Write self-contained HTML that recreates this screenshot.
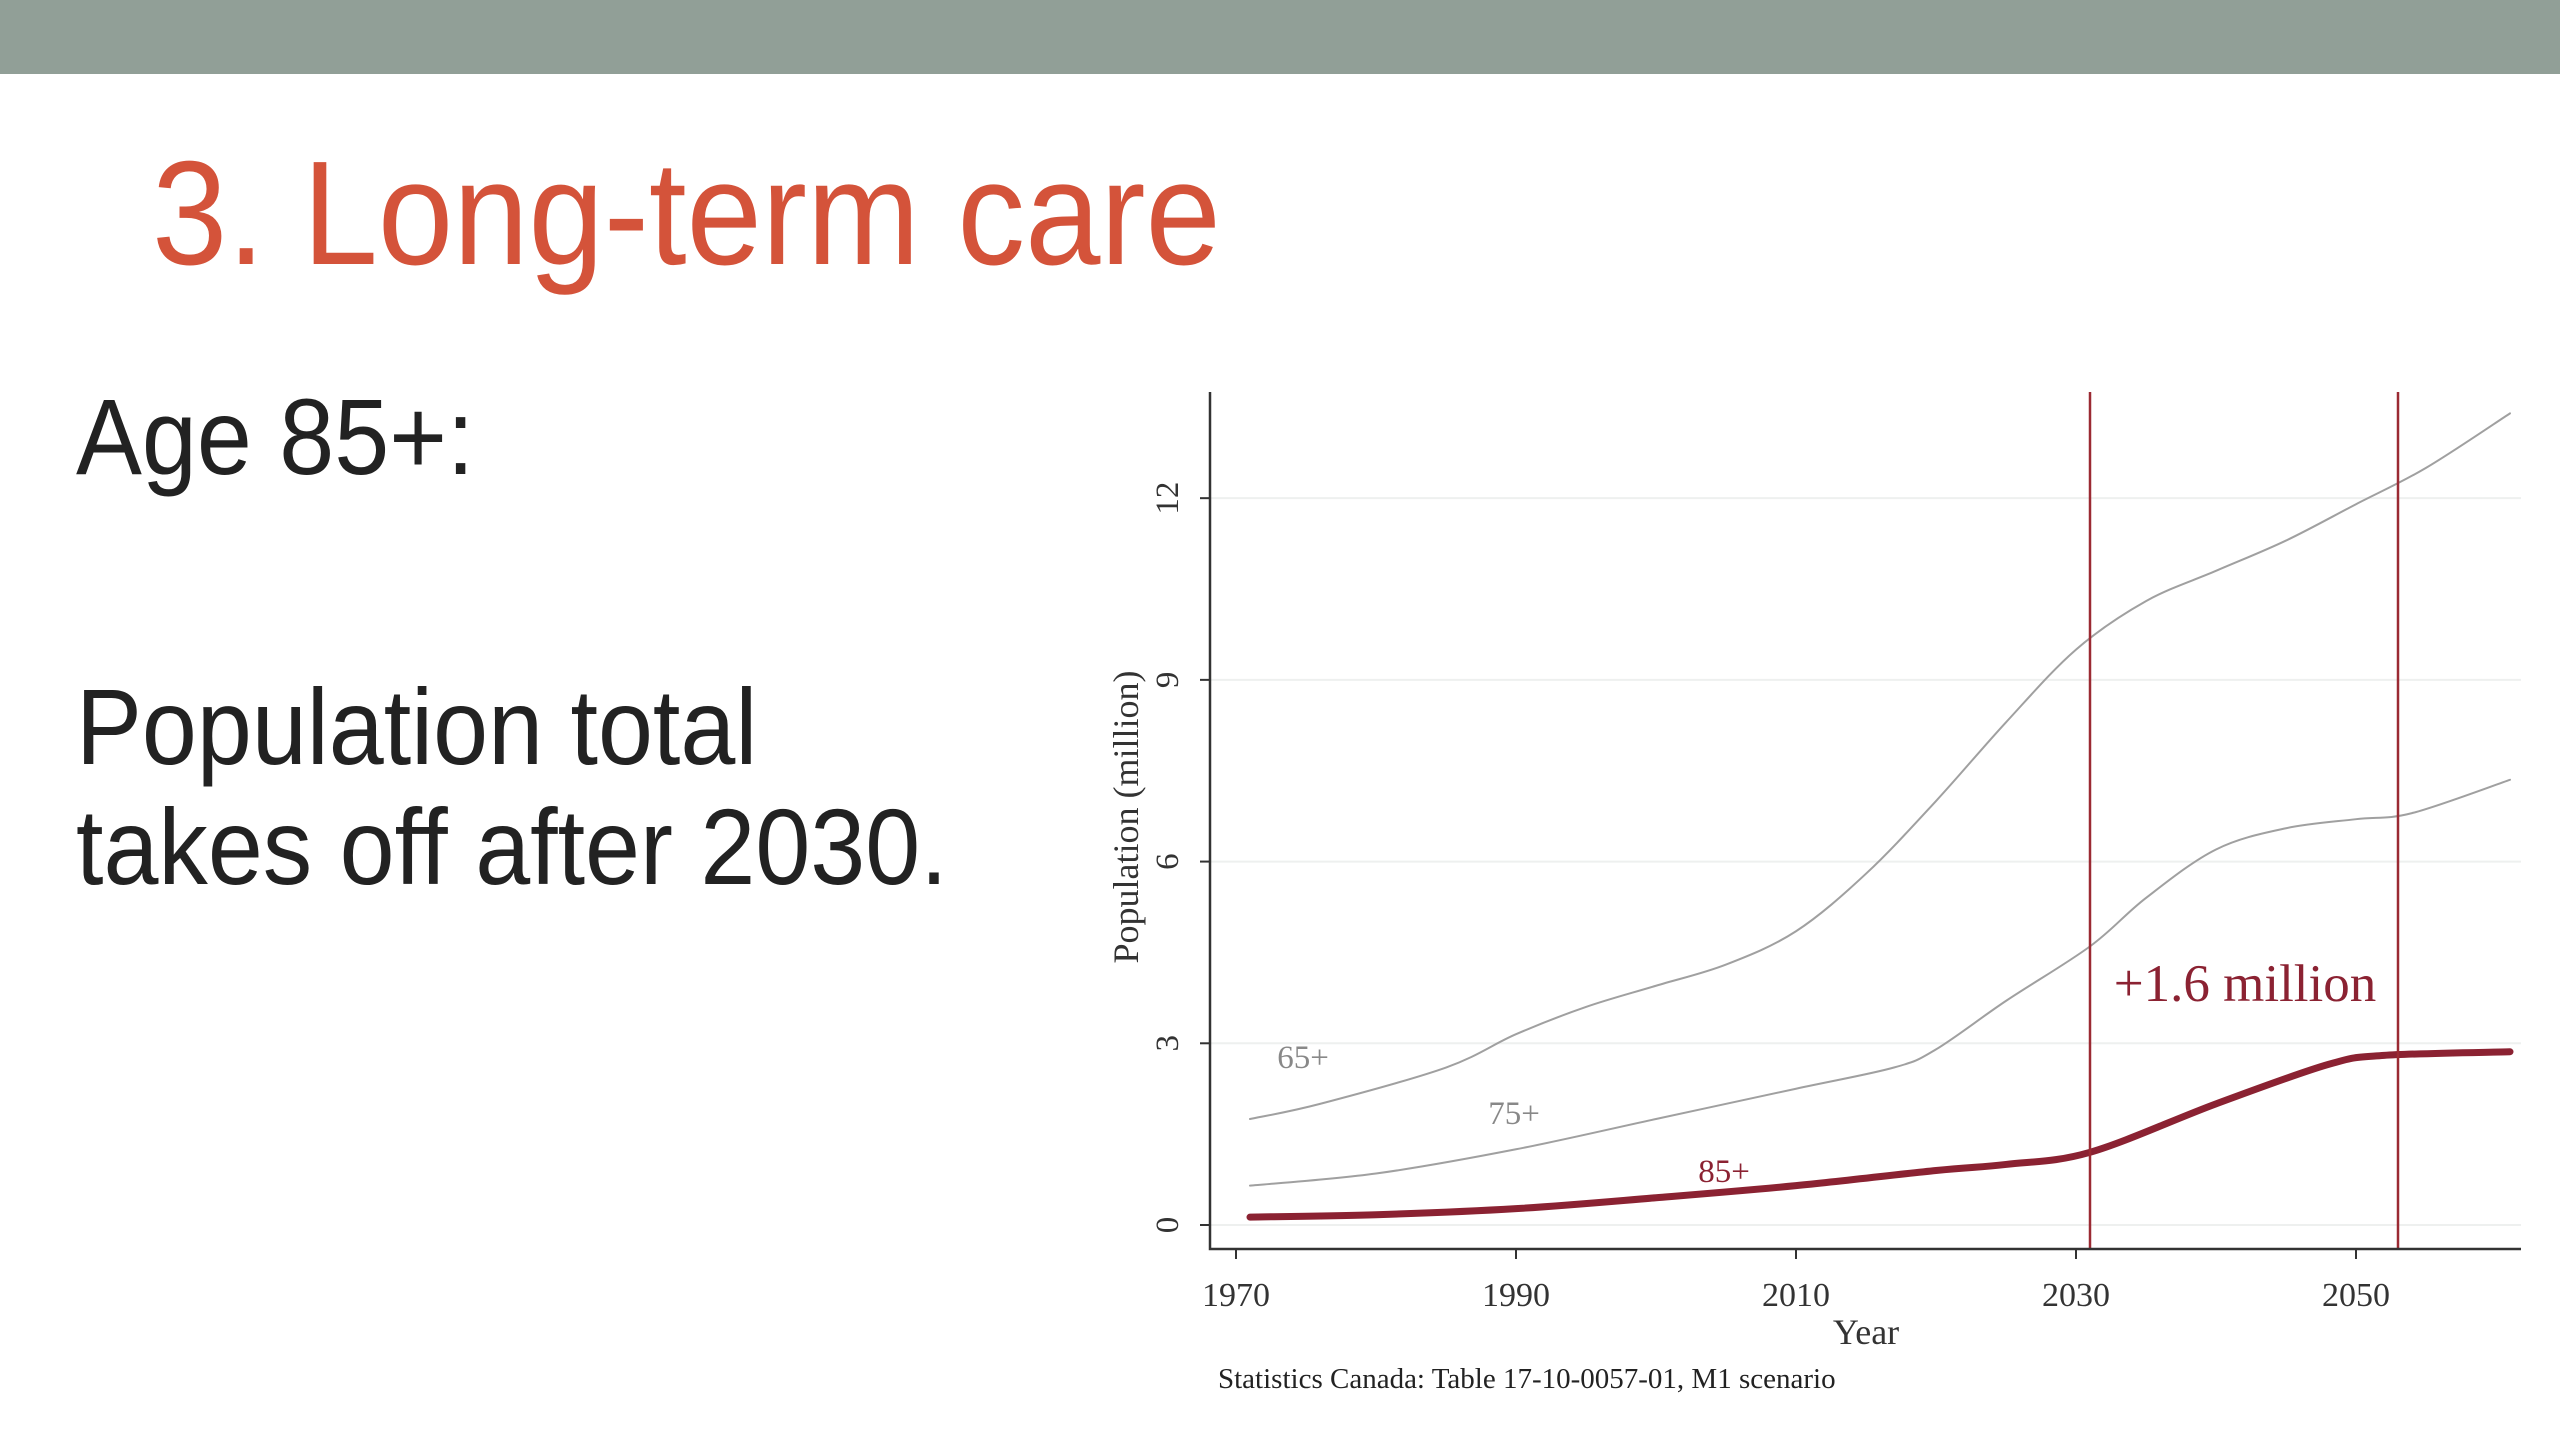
<!DOCTYPE html>
<html><head><meta charset="utf-8"><style>
html,body{margin:0;padding:0;background:#fff;width:2560px;height:1440px;overflow:hidden}
.abs{position:absolute;white-space:nowrap;transform-origin:0 0;transform:scaleX(0.915)}
.sans{font-family:"Liberation Sans",sans-serif}
</style></head><body>
<div style="position:absolute;left:0;top:0;width:2560px;height:74px;background:#919f97"></div>
<div class="abs sans" style="left:152px;top:140px;font-size:148px;color:#d4533a;line-height:1">3. Long-term care</div>
<div class="abs sans" style="left:76px;top:383px;font-size:108px;color:#222;line-height:1">Age 85+:</div>
<div class="abs sans" style="left:76px;top:667px;font-size:108px;color:#222;line-height:120px">Population total<br>takes off after 2030.</div>
<svg id="chart" style="position:absolute;left:0;top:0" width="2560" height="1440" font-family="Liberation Serif, serif"></svg>
<script>
const years65=[1971,1976,1985,1990,1995,2000,2005,2010,2015,2020,2025,2030,2035,2040,2045,2050,2055,2061];
const pop65=[1.75,2.0,2.6,3.15,3.6,3.95,4.3,4.85,5.8,7.0,8.3,9.5,10.3,10.8,11.3,11.9,12.5,13.4];
const years75=[1971,1980,1990,2000,2010,2017,2020,2025,2031,2035,2040,2045,2050,2054,2061];
const pop75=[0.65,0.85,1.25,1.75,2.25,2.6,2.9,3.7,4.6,5.4,6.2,6.55,6.7,6.8,7.35];
const years85=[1971,1980,1990,2000,2010,2020,2025,2031,2040,2048,2052,2061];
const pop85=[0.13,0.17,0.27,0.45,0.65,0.9,1.0,1.2,2.0,2.65,2.8,2.86];
const yTicks=[0,3,6,9,12];
const xTicks=[1970,1990,2010,2030,2050];
const vLines=[2031,2053];
const NS="http://www.w3.org/2000/svg";
const svg=document.getElementById('chart');
const X=y=>1236+(y-1970)*14.0;
const Y=v=>1225-v*60.57;
function el(t,a){const e=document.createElementNS(NS,t);for(const k in a)e.setAttribute(k,a[k]);svg.appendChild(e);return e;}
yTicks.forEach(v=>{
 const g=el('line',{x1:1210,x2:2521,y1:Y(v),y2:Y(v),stroke:'#eef0ef','stroke-width':2});
 
 
 const t=el('line',{x1:1200,x2:1210,y1:Y(v),y2:Y(v),stroke:'#333','stroke-width':2});
 
 
 const l=el('text',{x:1178,y:Y(v),'font-size':33,fill:'#333','text-anchor':'middle',transform:`rotate(-90 1178 ${Y(v)})`});
 l.textContent=v;
 
 
});
xTicks.forEach(v=>{
 const t=el('line',{x1:X(v),x2:X(v),y1:1249,y2:1259,stroke:'#333','stroke-width':2});
 
 
 const l=el('text',{x:X(v),y:1306,'font-size':34,fill:'#333','text-anchor':'middle'});
 l.textContent=v;
 
 
});
function smooth(pts){
 let d='M'+pts[0][0]+','+pts[0][1];
 for(let i=0;i<pts.length-1;i++){
  const p0=pts[Math.max(i-1,0)],p1=pts[i],p2=pts[i+1],p3=pts[Math.min(i+2,pts.length-1)];
  const c1=[p1[0]+(p2[0]-p0[0])/6,p1[1]+(p2[1]-p0[1])/6];
  const c2=[p2[0]-(p3[0]-p1[0])/6,p2[1]-(p3[1]-p1[1])/6];
  d+=` C${c1[0]},${c1[1]} ${c2[0]},${c2[1]} ${p2[0]},${p2[1]}`;
 }
 return d;
}
function series(xs,ys,color,w,name){
 const p=el('path',{d:smooth(xs.map((x,i)=>[X(x),Y(ys[i])])),fill:'none',stroke:color,'stroke-width':w,'stroke-linejoin':'round','stroke-linecap':'round'});
 
 
}
series(years65,pop65,'#a0a0a0',2,'line-65-plus');
series(years75,pop75,'#a0a0a0',2,'line-75-plus');
series(years85,pop85,'#8b2232',7,'line-85-plus');
vLines.forEach(v=>{
 const l=el('line',{x1:X(v),x2:X(v),y1:392,y2:1249,stroke:'#9b2a33','stroke-width':2.5});
 
 
});
const ax=el('path',{d:'M1210 392 V1249 H2521',fill:'none',stroke:'#333','stroke-width':2.5});


function txt(x,y,s,size,color,name,extra){const t=el('text',Object.assign({x:x,y:y,'font-size':size,fill:color},extra||{}));t.textContent=s;
 
 return t;}
txt(1303,1068,'65+',33,'#888','label-65-plus',{'text-anchor':'middle'});
txt(1514,1124,'75+',33,'#888','label-75-plus',{'text-anchor':'middle'});
txt(1724,1182,'85+',33,'#8b2232','label-85-plus',{'text-anchor':'middle'});
txt(2245,1001,'+1.6 million',53,'#8b2232','annotation-increase',{'text-anchor':'middle'});
txt(1866,1344,'Year',36,'#333','x-axis-title',{'text-anchor':'middle'});
txt(1138,817,'Population (million)',36,'#333','y-axis-title',{'text-anchor':'middle',transform:'rotate(-90 1138 817)'});
txt(1218,1388,'Statistics Canada: Table 17-10-0057-01, M1 scenario',29,'#222','source-note',{});
</script>
</body></html>
